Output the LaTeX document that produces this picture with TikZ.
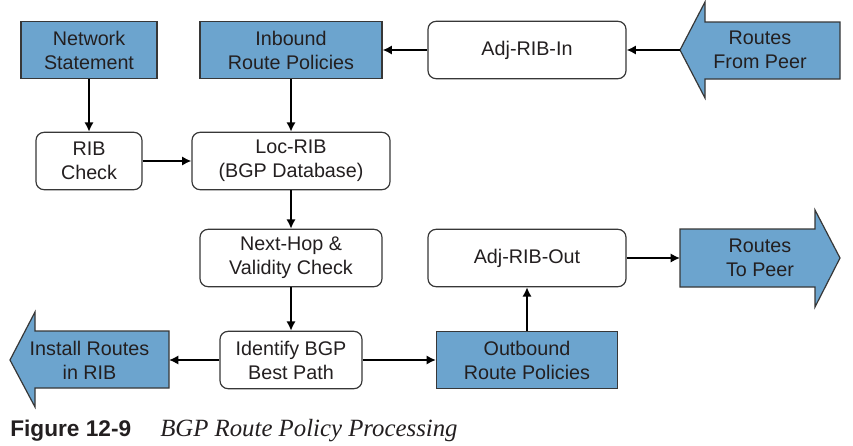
\documentclass[tikz,border=0pt]{standalone}
\usepackage{fontspec}
\setmainfont{Liberation Serif}
\setsansfont{Liberation Sans}
\usetikzlibrary{arrows.meta}
\definecolor{policyblue}{RGB}{108,164,206}
\definecolor{boxline}{RGB}{55,55,55}
\definecolor{inktext}{RGB}{35,31,32}
\begin{document}
\begin{tikzpicture}[x=0.75pt, y=-0.75pt,
    box/.style={rectangle, draw=boxline, line width=0.9pt, align=center,
      text=inktext, inner sep=0pt, minimum height=43pt,
      font=\sffamily\fontsize{14.8}{18}\selectfont},
    bluebox/.style={box, fill=policyblue},
    roundbox/.style={box, rounded corners=6pt, fill=white},
    bigarrow/.style={draw=boxline, fill=policyblue, line width=0.9pt},
    arrowtext/.style={align=center, text=inktext, inner sep=0pt,
      font=\sffamily\fontsize{14.8}{18}\selectfont}]
    \useasboundingbox (0,0) rectangle (853,446);
    % top row
    \node [bluebox, minimum width=102pt] (netstmt) at (89,50) {Network\\Statement};
    \node [bluebox, minimum width=136.5pt] (inpol) at (291,50) {Inbound\\Route Policies};
    \node [roundbox, minimum width=148.5pt] (adjin) at (527,50) {Adj-RIB-In};
    \draw [bigarrow] (680,50) -- (705,2) -- (705,22) -- (840,22) -- (840,79)
      -- (705,79) -- (705,98) -- cycle;
    \node [arrowtext] (frompeer) at (760,50) {Routes\\From Peer};
    \coordinate (peertip) at (680,50);
    % middle column
    \node [roundbox, minimum width=79.5pt] (ribchk) at (89,161) {RIB\\Check};
    \node [roundbox, minimum width=148.5pt] (locrib) at (291,161) {Loc-RIB\\(BGP Database)};
    \node [roundbox, minimum width=136.5pt] (nhchk) at (291,258) {Next-Hop \&\\Validity Check};
    \node [roundbox, minimum width=106.5pt] (bestpath) at (291,360) {Identify BGP\\Best Path};
    % outbound side
    \node [bluebox, minimum width=135.75pt] (outpol) at (527,360) {Outbound\\Route Policies};
    \node [roundbox, minimum width=148.5pt] (adjout) at (527,258) {Adj-RIB-Out};
    \draw [bigarrow] (680,229) -- (815,229) -- (815,210) -- (840,258) -- (815,307)
      -- (815,287) -- (680,287) -- cycle;
    \node [arrowtext] (topeer) at (760,258) {Routes\\To Peer};
    \coordinate (topeerend) at (680,258);
    \draw [bigarrow] (10,360) -- (35,312) -- (35,331) -- (169,331) -- (169,388)
      -- (35,388) -- (35,407) -- cycle;
    \node [arrowtext] (install) at (89.5,360) {Install Routes\\in RIB};
    \coordinate (installend) at (169,360);
    % connectors
    \begin{scope}[->, >={Latex[length=7pt,width=7pt]}, line width=1.4pt, draw=black]
      \draw (netstmt) -- (ribchk); \draw (inpol) -- (locrib);
      \draw (peertip) -- (adjin); \draw (adjin) -- (inpol);
      \draw (ribchk) -- (locrib); \draw (locrib) -- (nhchk);
      \draw (nhchk) -- (bestpath); \draw (bestpath) -- (installend);
      \draw (bestpath) -- (outpol); \draw (outpol) -- (adjout);
      \draw (adjout) -- (topeerend);
    \end{scope}
    % caption
    \node [anchor=base west, inner sep=0pt, text=inktext,
      font=\sffamily\bfseries\fontsize{17}{20}\selectfont] (fignum) at (10,436) {Figure 12-9};
    \node [anchor=base west, inner sep=0pt, text=inktext,
      font=\itshape\fontsize{18.6}{20}\selectfont] (figtitle) at (160,436) {BGP Route Policy Processing};
  \end{tikzpicture}
\end{document}
